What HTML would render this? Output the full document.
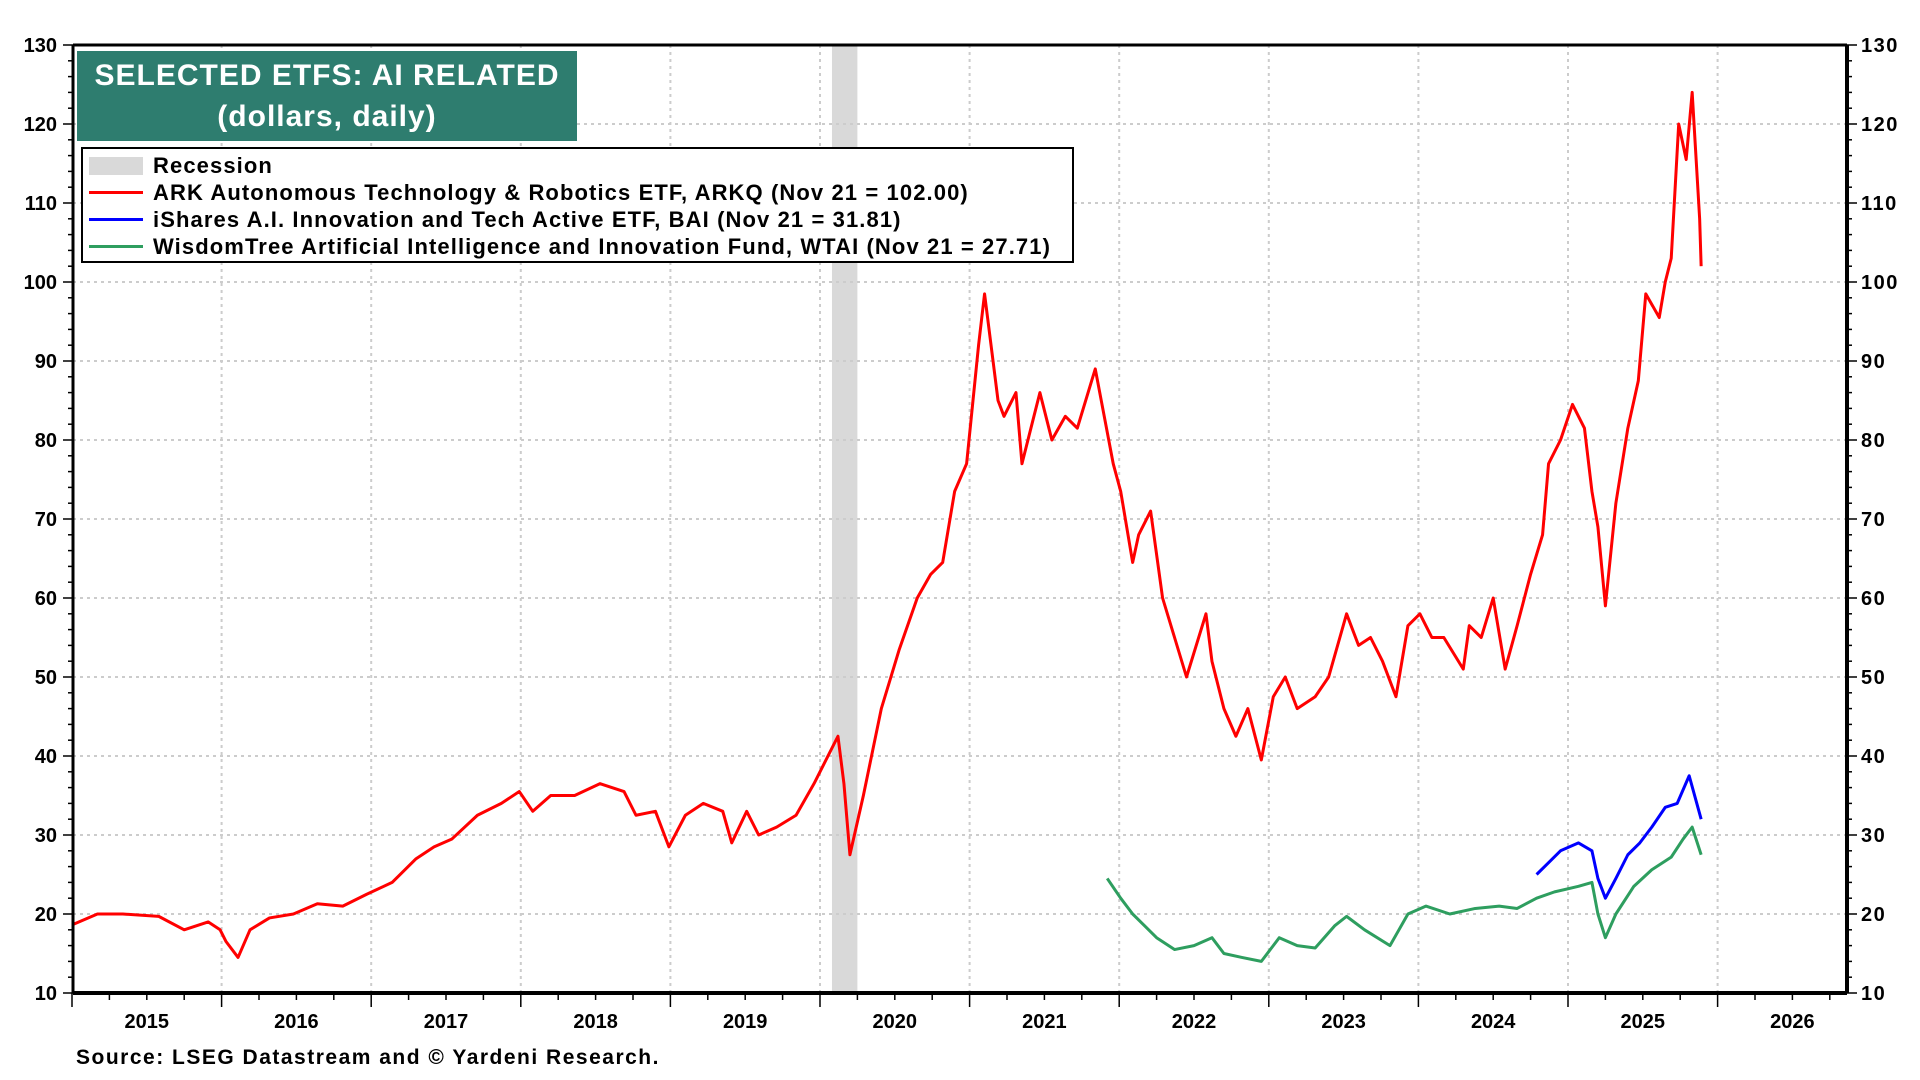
<!DOCTYPE html>
<html><head><meta charset="utf-8">
<style>
html,body{margin:0;padding:0;background:#fff;width:1920px;height:1080px;overflow:hidden;font-family:"Liberation Sans",Arial,sans-serif;}
svg text{font-family:"Liberation Sans",Arial,sans-serif;font-weight:bold;}
</style></head>
<body>
<svg id="chart" width="1920" height="1080"></svg>
<script>
const yTicks=[10,20,30,40,50,60,70,80,90,100,110,120,130];
const years=[2015,2016,2017,2018,2019,2020,2021,2022,2023,2024,2025,2026];
const recession=[2020.08,2020.25];
const arkqDates=[2015.01,2015.17,2015.34,2015.58,2015.75,2015.91,2015.99,2016.03,2016.11,2016.19,2016.32,2016.48,2016.64,2016.81,2016.97,2017.14,2017.30,2017.42,2017.54,2017.71,2017.87,2017.99,2018.08,2018.20,2018.36,2018.53,2018.69,2018.77,2018.90,2018.99,2019.10,2019.22,2019.35,2019.41,2019.51,2019.59,2019.71,2019.84,2019.96,2020.04,2020.12,2020.16,2020.20,2020.29,2020.41,2020.53,2020.65,2020.74,2020.82,2020.90,2020.98,2021.02,2021.06,2021.10,2021.15,2021.19,2021.23,2021.31,2021.35,2021.43,2021.47,2021.55,2021.64,2021.72,2021.84,2021.88,2021.96,2022.01,2022.09,2022.13,2022.21,2022.29,2022.37,2022.45,2022.58,2022.62,2022.70,2022.78,2022.86,2022.95,2023.03,2023.11,2023.19,2023.31,2023.40,2023.52,2023.60,2023.68,2023.76,2023.85,2023.93,2024.01,2024.09,2024.17,2024.30,2024.34,2024.42,2024.50,2024.58,2024.66,2024.75,2024.83,2024.87,2024.95,2025.03,2025.11,2025.16,2025.20,2025.25,2025.32,2025.40,2025.47,2025.52,2025.61,2025.65,2025.69,2025.74,2025.79,2025.83,2025.88,2025.89];
const arkqValues=[18.7,20,20,19.7,18,19,18,16.5,14.5,18,19.5,20,21.3,21,22.5,24,27,28.5,29.5,32.5,34,35.5,33,35,35,36.5,35.5,32.5,33,28.5,32.5,34,33,29,33,30,31,32.5,36.5,39.5,42.5,36.5,27.5,35,46,53.5,60,63,64.5,73.5,77,84.5,92,98.5,91,85,83,86,77,83,86,80,83,81.5,89,85,77,73.5,64.5,68,71,60,55,50,58,52,46,42.5,46,39.5,47.5,50,46,47.5,50,58,54,55,52,47.5,56.5,58,55,55,51,56.5,55,60,51,56.5,63,68,77,80,84.5,81.5,73.5,69,59,72,81.5,87.5,98.5,95.5,100,103,120,115.5,124,108,102];
const baiDates=[2024.79,2024.87,2024.95,2025.07,2025.16,2025.20,2025.25,2025.32,2025.40,2025.48,2025.56,2025.65,2025.73,2025.81,2025.89];
const baiValues=[25,26.5,28,29,28,24.5,22,24.5,27.5,29,31,33.5,34,37.5,32];
const wtaiDates=[2021.92,2022.01,2022.09,2022.17,2022.25,2022.37,2022.50,2022.62,2022.70,2022.82,2022.95,2023.07,2023.19,2023.31,2023.44,2023.52,2023.64,2023.81,2023.93,2024.05,2024.21,2024.38,2024.54,2024.66,2024.79,2024.91,2025.07,2025.16,2025.20,2025.25,2025.32,2025.44,2025.56,2025.69,2025.77,2025.83,2025.89];
const wtaiValues=[24.5,22,20,18.5,17,15.5,16,17,15,14.5,14,17,16,15.7,18.5,19.7,18,16,20,21,20,20.7,21,20.7,22,22.8,23.5,24,20,17,20,23.5,25.6,27.2,29.5,31,27.5];

const L=73,R=1847,T=45,B=993;
const x=d=>72+(d-2015)*149.6;
const y=v=>B-(v-10)*(B-T)/120;
const svg=document.getElementById('chart');
const NS='http://www.w3.org/2000/svg';
function mk(tag,attrs,parent){const e=document.createElementNS(NS,tag);for(const k in attrs)e.setAttribute(k,attrs[k]);(parent||svg).appendChild(e);return e;}

const rec=mk('rect',{x:x(recession[0]),y:T,width:x(recession[1])-x(recession[0]),height:B-T,fill:'#d9d9d9'});


yTicks.forEach(v=>{if(v>10&&v<130){const g=mk('line',{x1:L,x2:R,y1:y(v),y2:y(v),stroke:'#cccccc','stroke-width':2,'stroke-dasharray':'3 4'});

}});
years.forEach(yr=>{if(yr>2015){const g=mk('line',{x1:x(yr),x2:x(yr),y1:T,y2:B,stroke:'#cccccc','stroke-width':2,'stroke-dasharray':'3 4'});

}});
for(let v=10;v<=130;v+=2){const major=v%10===0;
mk('line',{x1:L-(major?10:5),x2:L,y1:y(v),y2:y(v),stroke:'#000','stroke-width':1.5});
mk('line',{x1:R,x2:R+(major?10:5),y1:y(v),y2:y(v),stroke:'#000','stroke-width':1.5});}
yTicks.forEach(v=>{
const a=mk('text',{x:L-16,y:y(v)+7,'text-anchor':'end','font-size':20});a.textContent=v;


const b=mk('text',{x:R+14,y:y(v)+7,'font-size':20,'letter-spacing':1.5});b.textContent=v;

});
for(let q=2015;q<=2026.75;q+=0.25){const major=Number.isInteger(q);
mk('line',{x1:x(q),x2:x(q),y1:B,y2:B+(major?14:7),stroke:'#000','stroke-width':1.5});}
years.forEach(yr=>{const t=mk('text',{x:x(yr+0.5),y:1028,'text-anchor':'middle','font-size':20});t.textContent=yr;

});
function line(ds,vs,color,name){const p=mk('polyline',{points:ds.map((d,i)=>x(d)+','+y(vs[i])).join(' '),fill:'none',stroke:color,'stroke-width':3,'stroke-linejoin':'round'});

}
line(wtaiDates,wtaiValues,'#2e9e5f','wtai-line');
line(baiDates,baiValues,'#0000ff','bai-line');
line(arkqDates,arkqValues,'#ff0000','arkq-line');
mk('line',{x1:L,x2:R,y1:T,y2:T,stroke:'#000','stroke-width':3});
mk('line',{x1:L,x2:R,y1:B,y2:B,stroke:'#000','stroke-width':4});
mk('line',{x1:L,x2:L,y1:T,y2:B,stroke:'#000','stroke-width':3});
mk('line',{x1:R,x2:R,y1:T,y2:B,stroke:'#000','stroke-width':4});
</script>
<div style="position:absolute;left:77px;top:51px;width:500px;height:90px;background:#2e7d6f;color:#fff;font-weight:bold;font-size:30px;letter-spacing:1px;text-align:center;line-height:41px;padding-top:4px;box-sizing:border-box;">SELECTED ETFS: AI RELATED<br>(dollars, daily)</div>
<div style="position:absolute;left:81px;top:147px;width:993px;height:116px;border:2px solid #000;background:#fff;box-sizing:border-box;font-weight:bold;font-size:22px;letter-spacing:1.1px;">
 <div style="position:absolute;left:6px;top:4px;white-space:nowrap;"><span style="display:inline-block;width:54px;height:18px;background:#d9d9d9;vertical-align:-2px;margin-right:10px;"></span>Recession</div>
 <div style="position:absolute;left:6px;top:31px;white-space:nowrap;"><span style="display:inline-block;width:54px;height:3px;background:#ff0000;vertical-align:6px;margin-right:10px;"></span>ARK Autonomous Technology &amp; Robotics ETF, ARKQ (Nov 21 = 102.00)</div>
 <div style="position:absolute;left:6px;top:58px;white-space:nowrap;"><span style="display:inline-block;width:54px;height:3px;background:#0000ff;vertical-align:6px;margin-right:10px;"></span>iShares A.I. Innovation and Tech Active ETF, BAI (Nov 21 = 31.81)</div>
 <div style="position:absolute;left:6px;top:85px;white-space:nowrap;"><span style="display:inline-block;width:54px;height:3px;background:#2e9e5f;vertical-align:6px;margin-right:10px;"></span>WisdomTree Artificial Intelligence and Innovation Fund, WTAI (Nov 21 = 27.71)</div>
</div>
<div style="position:absolute;left:76px;top:1046px;font-weight:bold;font-size:21px;letter-spacing:1.5px;white-space:nowrap;">Source: LSEG Datastream and © Yardeni Research.</div>
</body></html>
